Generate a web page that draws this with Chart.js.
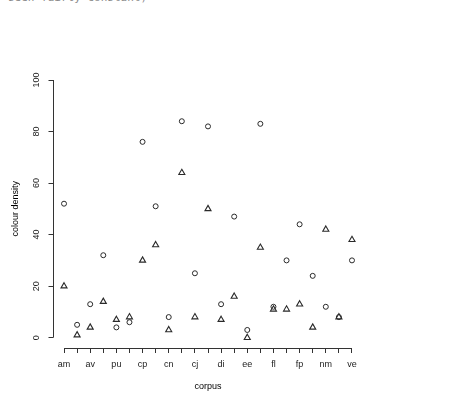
<!DOCTYPE html>
<html>
<head>
<meta charset="utf-8">
<script src="https://cdn.jsdelivr.net/npm/chart.js@4/dist/chart.umd.min.js"></script>
<style>
  html, body { margin: 0; padding: 0; background: #fff; overflow: hidden; }
  #wrap { position: relative; width: 449px; height: 400px; }
  #cut { position: absolute; top: -9px; left: 8px; font: 11px "DejaVu Sans Mono", monospace; color: #888; white-space: nowrap; }
  canvas { position: absolute; left: 0; top: 0; }
</style>
</head>
<body>
<div id="wrap">
  <div id="cut">seen fairly constant)</div>
  <canvas id="c" width="449" height="400"></canvas>
</div>
<script>
// tick labels (R drops every other label when they would overlap)
const tickLabels = ["am", "", "av", "", "pu", "", "cp", "", "cn", "", "cj", "", "di", "", "ee", "", "fl", "", "fp", "", "nm", "", "ve"];
const circleValues = [52, 5, 13, 32, 4, 6, 76, 51, 8, 84, 25, 82, 13, 47, 3, 83, 12, 30, 44, 24, 12, 8, 30];
const triangleValues = [20, 1, 4, 14, 7, 8, 30, 36, 3, 64, 8, 50, 7, 16, 0, 35, 11, 11, 13, 4, 42, 8, 38];
const yTicks = [0, 20, 40, 60, 80, 100];

const ink = "#333";
const font = { family: "'Liberation Sans', Arial, sans-serif", size: 9 };

const toPts = (vals) => vals.map((v, i) => ({ x: i + 1, y: v }));

// R style axis lines: only from first to last tick
const rAxes = {
  id: "rAxes",
  afterDraw(chart) {
    const { ctx, scales: { x, y } } = chart;
    ctx.save();
    ctx.strokeStyle = ink;
    ctx.lineWidth = 1;
    ctx.beginPath();
    const yb = Math.round(y.getPixelForValue(-4)) + 0.5;
    ctx.moveTo(x.getPixelForValue(1), yb);
    ctx.lineTo(x.getPixelForValue(tickLabels.length), yb);
    const xl = Math.round(x.getPixelForValue(0.12)) + 0.5;
    ctx.moveTo(xl, y.getPixelForValue(yTicks[0]));
    ctx.lineTo(xl, y.getPixelForValue(yTicks[yTicks.length - 1]));
    ctx.stroke();
    ctx.restore();
  }
};

new Chart(document.getElementById("c"), {
  type: "scatter",
  data: {
    datasets: [
      {
        data: toPts(circleValues),
        pointStyle: "circle",
        pointRadius: 2.5,
        pointBorderWidth: 1,
        borderColor: "#2a2a2a",
        backgroundColor: "rgba(0,0,0,0)",
      },
      {
        data: toPts(triangleValues),
        pointStyle: "triangle",
        pointRadius: 3.5,
        pointBorderWidth: 1.1,
        borderColor: "#2a2a2a",
        backgroundColor: "rgba(0,0,0,0)",
      },
    ],
  },
  options: {
    responsive: false,
    animation: false,
    events: [],
    layout: { padding: { top: 69.7, right: 85.5, left: 0, bottom: 0 } },
    plugins: { legend: { display: false }, tooltip: { enabled: false } },
    scales: {
      x: {
        type: "linear",
        min: 0.12,
        max: 23.88,
        afterBuildTicks: (s) => { s.ticks = tickLabels.map((_, i) => ({ value: i + 1 })); },
        afterFit: (s) => { s.height = 52; },
        border: { display: false },
        grid: { drawOnChartArea: false, drawTicks: true, tickLength: 5, color: ink, lineWidth: 1 },
        ticks: {
          autoSkip: false,
          maxRotation: 0,
          padding: 6,
          color: "#222",
          font,
          callback: (v, i) => tickLabels[i],
        },
        title: { display: true, text: "corpus", color: "#000", font, padding: { top: 0, bottom: 8 } },
      },
      y: {
        type: "linear",
        min: -4,
        max: 104,
        afterBuildTicks: (s) => { s.ticks = yTicks.map((v) => ({ value: v })); },
        afterFit: (s) => { s.width = 52.5; },
        border: { display: false },
        grid: { drawOnChartArea: false, drawTicks: true, tickLength: 4, color: ink, lineWidth: 1 },
        ticks: {
          minRotation: 90,
          maxRotation: 90,
          padding: 4,
          crossAlign: "center",
          color: "#222",
          font,
        },
        title: { display: true, text: "colour density", color: "#000", font, padding: { top: 10, bottom: 0 } },
      },
    },
  },
  plugins: [rAxes],
});
</script>
</body>
</html>
